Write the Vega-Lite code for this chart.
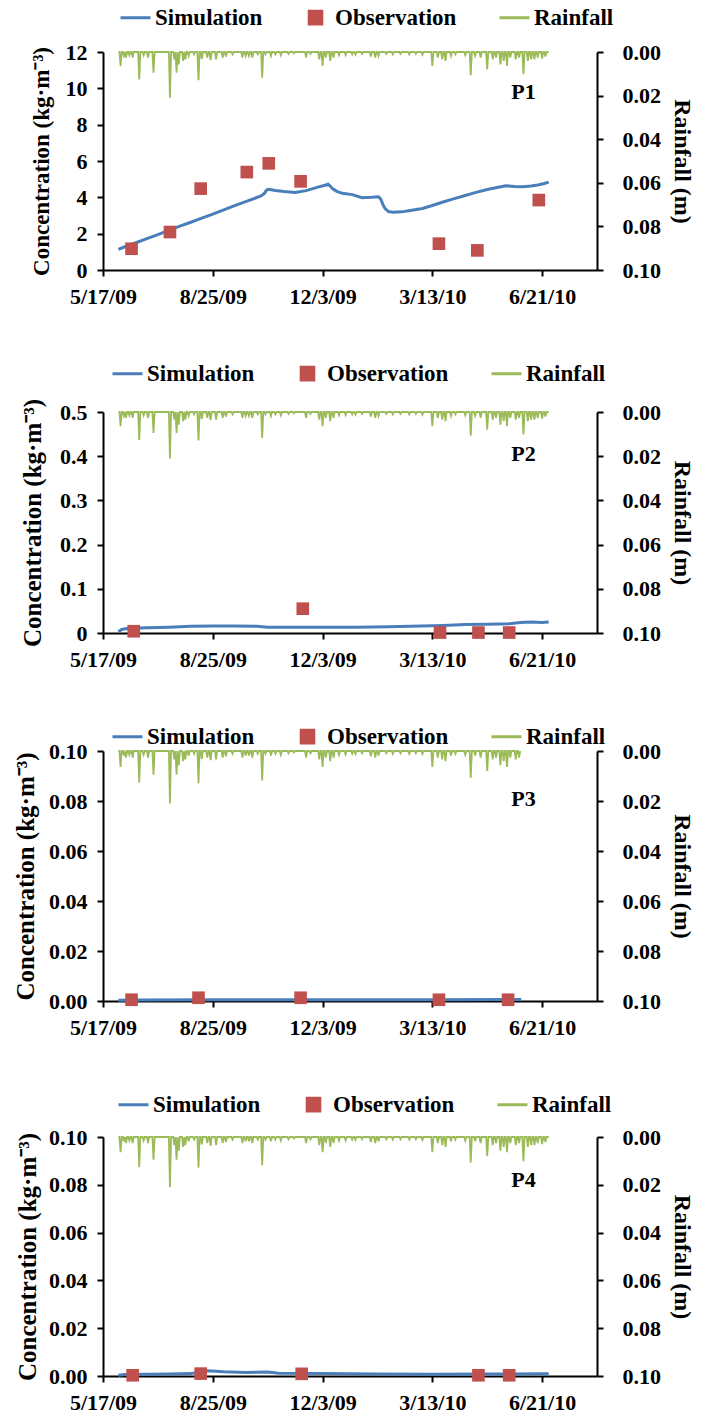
{
"$schema": "https://vega.github.io/schema/vega-lite/v6.json",
"padding": {"left": 13, "top": 1, "right": 5, "bottom": 5},
"config": {
  "font": "Liberation Serif",
  "view": {"stroke": null},
  "axis": {"domainColor": "#000", "domainWidth": 2, "tickColor": "#000", "tickWidth": 2, "tickSize": 6, "labelFont": "Liberation Serif", "labelFontSize": 22, "labelFontWeight": "bold", "labelColor": "#000", "titleFont": "Liberation Serif", "titleFontSize": 24, "titleFontWeight": "bold", "titleColor": "#000", "grid": false, "labelPadding": 10, "labelOverlap": false, "labelFlush": false},
  "legend": {"labelFont": "Liberation Serif", "labelFontSize": 23, "labelFontWeight": "bold", "labelColor": "#000", "symbolSize": 900, "symbolStrokeWidth": 3, "columnPadding": 36, "labelOffset": 3, "padding": 0}
},
"datasets": {
"rain": [
{"d":"2009-05-31","r":0},{"d":"2009-06-01","r":0},{"d":"2009-06-02","r":0.0064},{"d":"2009-06-03","r":0},{"d":"2009-06-04","r":0},{"d":"2009-06-05","r":0.0018},{"d":"2009-06-06","r":0},{"d":"2009-06-07","r":0.0026},{"d":"2009-06-08","r":0},{"d":"2009-06-09","r":0},{"d":"2009-06-10","r":0.0015},{"d":"2009-06-11","r":0},{"d":"2009-06-12","r":0},{"d":"2009-06-13","r":0.0026},{"d":"2009-06-14","r":0},{"d":"2009-06-18","r":0},{"d":"2009-06-19","r":0.0126},{"d":"2009-06-20","r":0},{"d":"2009-06-22","r":0},{"d":"2009-06-23","r":0.0015},{"d":"2009-06-24","r":0},{"d":"2009-06-26","r":0},{"d":"2009-06-27","r":0.0026},{"d":"2009-06-28","r":0},{"d":"2009-07-01","r":0},{"d":"2009-07-02","r":0.0095},{"d":"2009-07-03","r":0},{"d":"2009-07-16","r":0},{"d":"2009-07-17","r":0.021},{"d":"2009-07-18","r":0},{"d":"2009-07-20","r":0},{"d":"2009-07-21","r":0.0034},{"d":"2009-07-22","r":0},{"d":"2009-07-23","r":0.0095},{"d":"2009-07-24","r":0},{"d":"2009-07-25","r":0.0057},{"d":"2009-07-26","r":0},{"d":"2009-07-28","r":0},{"d":"2009-07-29","r":0.0041},{"d":"2009-07-30","r":0},{"d":"2009-07-31","r":0.0034},{"d":"2009-08-01","r":0},{"d":"2009-08-02","r":0},{"d":"2009-08-03","r":0.0018},{"d":"2009-08-04","r":0},{"d":"2009-08-07","r":0},{"d":"2009-08-08","r":0.0011},{"d":"2009-08-09","r":0},{"d":"2009-08-11","r":0},{"d":"2009-08-12","r":0.0129},{"d":"2009-08-13","r":0},{"d":"2009-08-14","r":0},{"d":"2009-08-15","r":0.0031},{"d":"2009-08-16","r":0},{"d":"2009-08-19","r":0},{"d":"2009-08-20","r":0.0026},{"d":"2009-08-21","r":0},{"d":"2009-08-22","r":0},{"d":"2009-08-23","r":0.0037},{"d":"2009-08-24","r":0},{"d":"2009-08-27","r":0},{"d":"2009-08-28","r":0.0034},{"d":"2009-08-29","r":0},{"d":"2009-09-02","r":0},{"d":"2009-09-03","r":0.0026},{"d":"2009-09-04","r":0},{"d":"2009-09-05","r":0},{"d":"2009-09-06","r":0.0021},{"d":"2009-09-07","r":0},{"d":"2009-09-11","r":0},{"d":"2009-09-12","r":0.0011},{"d":"2009-09-13","r":0},{"d":"2009-09-20","r":0},{"d":"2009-09-21","r":0.0026},{"d":"2009-09-22","r":0},{"d":"2009-09-23","r":0},{"d":"2009-09-24","r":0.0018},{"d":"2009-09-25","r":0},{"d":"2009-09-26","r":0},{"d":"2009-09-27","r":0.0018},{"d":"2009-09-28","r":0},{"d":"2009-09-29","r":0},{"d":"2009-09-30","r":0.0026},{"d":"2009-10-01","r":0},{"d":"2009-10-04","r":0},{"d":"2009-10-05","r":0.0011},{"d":"2009-10-06","r":0},{"d":"2009-10-08","r":0},{"d":"2009-10-09","r":0.0118},{"d":"2009-10-10","r":0},{"d":"2009-10-11","r":0},{"d":"2009-10-12","r":0.0011},{"d":"2009-10-13","r":0},{"d":"2009-10-16","r":0},{"d":"2009-10-17","r":0.0018},{"d":"2009-10-18","r":0},{"d":"2009-10-20","r":0},{"d":"2009-10-21","r":0.0011},{"d":"2009-10-22","r":0},{"d":"2009-10-25","r":0},{"d":"2009-10-26","r":0.0015},{"d":"2009-10-27","r":0},{"d":"2009-11-01","r":0},{"d":"2009-11-02","r":0.0009},{"d":"2009-11-03","r":0},{"d":"2009-11-06","r":0},{"d":"2009-11-07","r":0.0006},{"d":"2009-11-08","r":0},{"d":"2009-11-17","r":0},{"d":"2009-11-18","r":0.0026},{"d":"2009-11-19","r":0},{"d":"2009-11-21","r":0},{"d":"2009-11-22","r":0.0009},{"d":"2009-11-23","r":0},{"d":"2009-11-29","r":0},{"d":"2009-11-30","r":0.0034},{"d":"2009-12-01","r":0},{"d":"2009-12-02","r":0},{"d":"2009-12-03","r":0.0064},{"d":"2009-12-04","r":0},{"d":"2009-12-05","r":0},{"d":"2009-12-06","r":0.0026},{"d":"2009-12-07","r":0},{"d":"2009-12-09","r":0},{"d":"2009-12-10","r":0.0041},{"d":"2009-12-11","r":0},{"d":"2009-12-12","r":0},{"d":"2009-12-13","r":0.0026},{"d":"2009-12-14","r":0},{"d":"2009-12-17","r":0},{"d":"2009-12-18","r":0.0015},{"d":"2009-12-19","r":0},{"d":"2009-12-23","r":0},{"d":"2009-12-24","r":0.0014},{"d":"2009-12-25","r":0},{"d":"2009-12-29","r":0},{"d":"2009-12-30","r":0.0011},{"d":"2009-12-31","r":0},{"d":"2010-01-01","r":0},{"d":"2010-01-02","r":0.0012},{"d":"2010-01-03","r":0},{"d":"2010-01-07","r":0},{"d":"2010-01-08","r":0.0009},{"d":"2010-01-09","r":0},{"d":"2010-01-15","r":0},{"d":"2010-01-16","r":0.0021},{"d":"2010-01-17","r":0},{"d":"2010-01-19","r":0},{"d":"2010-01-20","r":0.0026},{"d":"2010-01-21","r":0},{"d":"2010-01-22","r":0},{"d":"2010-01-23","r":0.0018},{"d":"2010-01-24","r":0},{"d":"2010-01-29","r":0},{"d":"2010-01-30","r":0.0009},{"d":"2010-01-31","r":0},{"d":"2010-02-04","r":0},{"d":"2010-02-05","r":0.0011},{"d":"2010-02-06","r":0},{"d":"2010-02-11","r":0},{"d":"2010-02-12","r":0.0009},{"d":"2010-02-13","r":0},{"d":"2010-02-19","r":0},{"d":"2010-02-20","r":0.0011},{"d":"2010-02-21","r":0},{"d":"2010-02-25","r":0},{"d":"2010-02-26","r":0.0009},{"d":"2010-02-27","r":0},{"d":"2010-03-03","r":0},{"d":"2010-03-04","r":0.0012},{"d":"2010-03-05","r":0},{"d":"2010-03-12","r":0},{"d":"2010-03-13","r":0.0064},{"d":"2010-03-14","r":0},{"d":"2010-03-17","r":0},{"d":"2010-03-18","r":0.0026},{"d":"2010-03-19","r":0},{"d":"2010-03-21","r":0},{"d":"2010-03-22","r":0.0034},{"d":"2010-03-23","r":0},{"d":"2010-03-24","r":0},{"d":"2010-03-25","r":0.0041},{"d":"2010-03-26","r":0},{"d":"2010-03-29","r":0},{"d":"2010-03-30","r":0.0018},{"d":"2010-03-31","r":0},{"d":"2010-04-02","r":0},{"d":"2010-04-03","r":0.0011},{"d":"2010-04-04","r":0},{"d":"2010-04-11","r":0},{"d":"2010-04-12","r":0.0015},{"d":"2010-04-13","r":0},{"d":"2010-04-16","r":0},{"d":"2010-04-17","r":0.0107},{"d":"2010-04-18","r":0},{"d":"2010-04-20","r":0},{"d":"2010-04-21","r":0.0018},{"d":"2010-04-22","r":0},{"d":"2010-04-25","r":0},{"d":"2010-04-26","r":0.0026},{"d":"2010-04-27","r":0},{"d":"2010-05-01","r":0},{"d":"2010-05-02","r":0.008},{"d":"2010-05-03","r":0},{"d":"2010-05-06","r":0},{"d":"2010-05-07","r":0.0034},{"d":"2010-05-08","r":0},{"d":"2010-05-09","r":0},{"d":"2010-05-10","r":0.0026},{"d":"2010-05-11","r":0},{"d":"2010-05-13","r":0},{"d":"2010-05-14","r":0.0057},{"d":"2010-05-15","r":0},{"d":"2010-05-16","r":0},{"d":"2010-05-17","r":0.0041},{"d":"2010-05-18","r":0},{"d":"2010-05-19","r":0},{"d":"2010-05-20","r":0.0064},{"d":"2010-05-21","r":0},{"d":"2010-05-22","r":0},{"d":"2010-05-23","r":0.0026},{"d":"2010-05-24","r":0},{"d":"2010-05-27","r":0},{"d":"2010-05-28","r":0.0034},{"d":"2010-05-29","r":0},{"d":"2010-05-30","r":0},{"d":"2010-05-31","r":0.0026},{"d":"2010-06-01","r":0},{"d":"2010-06-03","r":0},{"d":"2010-06-04","r":0.0102},{"d":"2010-06-05","r":0},{"d":"2010-06-07","r":0},{"d":"2010-06-08","r":0.0041},{"d":"2010-06-09","r":0},{"d":"2010-06-10","r":0},{"d":"2010-06-11","r":0.0034},{"d":"2010-06-12","r":0},{"d":"2010-06-13","r":0},{"d":"2010-06-14","r":0.0034},{"d":"2010-06-15","r":0},{"d":"2010-06-16","r":0},{"d":"2010-06-17","r":0.0026},{"d":"2010-06-18","r":0},{"d":"2010-06-20","r":0},{"d":"2010-06-21","r":0.003},{"d":"2010-06-22","r":0},{"d":"2010-06-23","r":0},{"d":"2010-06-24","r":0.0021},{"d":"2010-06-25","r":0},{"d":"2010-06-27","r":0}
],
"sim": [
{"p":"P1","d":"2009-05-31","c":1.14},{"p":"P1","d":"2009-06-06","c":1.28},{"p":"P1","d":"2009-06-16","c":1.5},{"p":"P1","d":"2009-06-26","c":1.73},{"p":"P1","d":"2009-07-06","c":1.95},{"p":"P1","d":"2009-07-16","c":2.18},{"p":"P1","d":"2009-07-26","c":2.41},{"p":"P1","d":"2009-08-05","c":2.63},{"p":"P1","d":"2009-08-15","c":2.86},{"p":"P1","d":"2009-08-25","c":3.08},{"p":"P1","d":"2009-09-04","c":3.31},{"p":"P1","d":"2009-09-14","c":3.54},{"p":"P1","d":"2009-09-24","c":3.76},{"p":"P1","d":"2009-10-04","c":3.99},{"p":"P1","d":"2009-10-08","c":4.08},{"p":"P1","d":"2009-10-11","c":4.22},{"p":"P1","d":"2009-10-13","c":4.4},{"p":"P1","d":"2009-10-15","c":4.44},{"p":"P1","d":"2009-10-21","c":4.38},{"p":"P1","d":"2009-10-29","c":4.32},{"p":"P1","d":"2009-11-08","c":4.27},{"p":"P1","d":"2009-11-18","c":4.37},{"p":"P1","d":"2009-11-28","c":4.55},{"p":"P1","d":"2009-12-06","c":4.68},{"p":"P1","d":"2009-12-08","c":4.72},{"p":"P1","d":"2009-12-10","c":4.62},{"p":"P1","d":"2009-12-12","c":4.48},{"p":"P1","d":"2009-12-16","c":4.33},{"p":"P1","d":"2009-12-21","c":4.22},{"p":"P1","d":"2009-12-30","c":4.15},{"p":"P1","d":"2010-01-08","c":3.98},{"p":"P1","d":"2010-01-17","c":4.0},{"p":"P1","d":"2010-01-23","c":4.03},{"p":"P1","d":"2010-01-25","c":3.9},{"p":"P1","d":"2010-01-27","c":3.6},{"p":"P1","d":"2010-01-29","c":3.38},{"p":"P1","d":"2010-02-01","c":3.22},{"p":"P1","d":"2010-02-05","c":3.18},{"p":"P1","d":"2010-02-13","c":3.2},{"p":"P1","d":"2010-02-21","c":3.28},{"p":"P1","d":"2010-03-04","c":3.39},{"p":"P1","d":"2010-03-13","c":3.55},{"p":"P1","d":"2010-03-22","c":3.73},{"p":"P1","d":"2010-04-02","c":3.93},{"p":"P1","d":"2010-04-12","c":4.1},{"p":"P1","d":"2010-04-21","c":4.26},{"p":"P1","d":"2010-05-02","c":4.43},{"p":"P1","d":"2010-05-12","c":4.56},{"p":"P1","d":"2010-05-19","c":4.64},{"p":"P1","d":"2010-05-27","c":4.6},{"p":"P1","d":"2010-06-03","c":4.58},{"p":"P1","d":"2010-06-11","c":4.63},{"p":"P1","d":"2010-06-17","c":4.68},{"p":"P1","d":"2010-06-23","c":4.76},{"p":"P1","d":"2010-06-27","c":4.84},
{"p":"P2","d":"2009-05-31","c":0.003},{"p":"P2","d":"2009-06-03","c":0.008},{"p":"P2","d":"2009-06-08","c":0.01},{"p":"P2","d":"2009-06-26","c":0.012},{"p":"P2","d":"2009-07-16","c":0.013},{"p":"P2","d":"2009-08-05","c":0.015},{"p":"P2","d":"2009-08-25","c":0.016},{"p":"P2","d":"2009-09-14","c":0.016},{"p":"P2","d":"2009-10-04","c":0.015},{"p":"P2","d":"2009-10-14","c":0.013},{"p":"P2","d":"2009-11-03","c":0.013},{"p":"P2","d":"2009-12-03","c":0.013},{"p":"P2","d":"2010-01-02","c":0.013},{"p":"P2","d":"2010-02-01","c":0.014},{"p":"P2","d":"2010-03-03","c":0.016},{"p":"P2","d":"2010-03-23","c":0.017},{"p":"P2","d":"2010-04-12","c":0.019},{"p":"P2","d":"2010-05-02","c":0.02},{"p":"P2","d":"2010-05-22","c":0.021},{"p":"P2","d":"2010-06-01","c":0.024},{"p":"P2","d":"2010-06-11","c":0.025},{"p":"P2","d":"2010-06-21","c":0.024},{"p":"P2","d":"2010-06-27","c":0.025},
{"p":"P3","d":"2009-05-31","c":0.0003},{"p":"P3","d":"2009-06-16","c":0.0004},{"p":"P3","d":"2009-08-25","c":0.0005},{"p":"P3","d":"2009-12-03","c":0.0005},{"p":"P3","d":"2010-03-13","c":0.0005},{"p":"P3","d":"2010-06-02","c":0.0006},
{"p":"P4","d":"2009-05-31","c":0.0003},{"p":"P4","d":"2009-06-06","c":0.0006},{"p":"P4","d":"2009-07-16","c":0.0008},{"p":"P4","d":"2009-08-05","c":0.001},{"p":"P4","d":"2009-08-13","c":0.0017},{"p":"P4","d":"2009-08-20","c":0.0022},{"p":"P4","d":"2009-09-04","c":0.0018},{"p":"P4","d":"2009-09-24","c":0.0015},{"p":"P4","d":"2009-10-14","c":0.0017},{"p":"P4","d":"2009-10-24","c":0.0012},{"p":"P4","d":"2009-12-03","c":0.001},{"p":"P4","d":"2010-01-22","c":0.0008},{"p":"P4","d":"2010-03-13","c":0.0007},{"p":"P4","d":"2010-05-02","c":0.0008},{"p":"P4","d":"2010-06-21","c":0.0009},{"p":"P4","d":"2010-06-27","c":0.0009}
],
"obs": [
{"p":"P1","d":"2009-06-12","c":1.17},{"p":"P1","d":"2009-07-17","c":2.09},{"p":"P1","d":"2009-08-14","c":4.48},{"p":"P1","d":"2009-09-25","c":5.39},{"p":"P1","d":"2009-10-15","c":5.87},{"p":"P1","d":"2009-11-13","c":4.88},{"p":"P1","d":"2010-03-19","c":1.45},{"p":"P1","d":"2010-04-23","c":1.08},{"p":"P1","d":"2010-06-18","c":3.85},
{"p":"P2","d":"2009-06-14","c":0.004},{"p":"P2","d":"2009-11-15","c":0.055},{"p":"P2","d":"2010-03-20","c":0.001},{"p":"P2","d":"2010-04-24","c":0.001},{"p":"P2","d":"2010-05-22","c":0.001},
{"p":"P3","d":"2009-06-12","c":0.0005},{"p":"P3","d":"2009-08-12","c":0.0013},{"p":"P3","d":"2009-11-13","c":0.0013},{"p":"P3","d":"2010-03-19","c":0.0005},{"p":"P3","d":"2010-05-21","c":0.0005},
{"p":"P4","d":"2009-06-13","c":0.0003},{"p":"P4","d":"2009-08-14","c":0.001},{"p":"P4","d":"2009-11-14","c":0.0009},{"p":"P4","d":"2010-04-24","c":0.0003},{"p":"P4","d":"2010-05-22","c":0.0003}
]
},
"vconcat": [
{
 "width": 494, "height": 218,
 "layer": [
  {"data": {"name": "rain"},
   "mark": {"type": "line", "strokeWidth": 1.8},
   "encoding": {
    "x": {"field": "d", "type": "temporal", "scale": {"type": "utc", "nice": false, "domain": [{"year": 2009, "month": 5, "date": 17, "utc": true}, {"year": 2010, "month": 8, "date": 10, "utc": true}]}, "axis": {"title": null, "values": [{"year":2009,"month":5,"date":17,"utc":true},{"year":2009,"month":8,"date":25,"utc":true},{"year":2009,"month":12,"date":3,"utc":true},{"year":2010,"month":3,"date":13,"utc":true},{"year":2010,"month":6,"date":21,"utc":true}], "labelExpr": "utcFormat(datum.value, '%-m/%-d/%y')"}},
    "y": {"field": "r", "type": "quantitative", "scale": {"domain": [0, 0.1], "reverse": true, "nice": false}, "axis": {"orient": "right", "title": "Rainfall (m)", "values": [0, 0.02, 0.04, 0.06, 0.08, 0.1], "format": ".2f", "labelPadding": 19, "titlePadding": 9}},
    "color": {"datum": "Rainfall", "scale": {"domain": ["Simulation", "Observation", "Rainfall"], "range": ["#4a7ebb", "#c0504d", "#9bbb59"]}, "legend": {"title": null, "orient": "none", "legendX": 16, "legendY": -51, "direction": "horizontal", "encode": {"symbols": {"update": {"shape": {"signal": "datum.value === 'Observation' ? 'M-0.42,-0.42H0.42V0.42H-0.42Z' : 'stroke'"}, "fill": {"signal": "datum.value === 'Observation' ? '#c0504d' : 'transparent'"}, "stroke": {"signal": "datum.value === 'Simulation' ? '#4a7ebb' : datum.value === 'Rainfall' ? '#9bbb59' : 'transparent'"}, "strokeWidth": {"value": 3}, "opacity": {"value": 1}}}}}}
   }},
  {"layer": [
    {"data": {"name": "sim"}, "transform": [{"filter": "datum.p === 'P1'"}],
     "mark": {"type": "line", "strokeWidth": 3},
     "encoding": {
      "x": {"field": "d", "type": "temporal"},
      "y": {"field": "c", "type": "quantitative", "scale": {"domain": [0, 12], "nice": false}, "axis": {"orient": "left", "title": "Concentration (kg·m⁻³)", "values": [0, 2, 4, 6, 8, 10, 12], "tickCount": 7, "labelOverlap": false, "format": "d", "titlePadding": 12, "titleFontSize": 23}},
      "color": {"datum": "Simulation"}
     }},
    {"data": {"name": "obs"}, "transform": [{"filter": "datum.p === 'P1'"}],
     "mark": {"type": "point", "shape": "square", "filled": true, "size": 160, "opacity": 1},
     "encoding": {
      "x": {"field": "d", "type": "temporal"},
      "y": {"field": "c", "type": "quantitative"},
      "color": {"datum": "Observation"}
     }},
    {"data": {"values": [{"label": "P1"}]},
     "mark": {"type": "text", "fontSize": 22, "fontWeight": "bold", "font": "Liberation Serif", "color": "#000"},
     "encoding": {
      "x": {"datum": {"year": 2010, "month": 6, "date": 4, "utc": true}, "type": "temporal"},
      "y": {"datum": 9.8, "type": "quantitative"},
      "text": {"field": "label"}
     }}
  ]}
 ],
 "resolve": {"scale": {"y": "independent"}}
},
{
 "width": 494, "height": 221,
 "layer": [
  {"data": {"name": "rain"},
   "mark": {"type": "line", "strokeWidth": 1.8},
   "encoding": {
    "x": {"field": "d", "type": "temporal", "scale": {"type": "utc", "nice": false, "domain": [{"year": 2009, "month": 5, "date": 17, "utc": true}, {"year": 2010, "month": 8, "date": 10, "utc": true}]}, "axis": {"title": null, "values": [{"year":2009,"month":5,"date":17,"utc":true},{"year":2009,"month":8,"date":25,"utc":true},{"year":2009,"month":12,"date":3,"utc":true},{"year":2010,"month":3,"date":13,"utc":true},{"year":2010,"month":6,"date":21,"utc":true}], "labelExpr": "utcFormat(datum.value, '%-m/%-d/%y')"}},
    "y": {"field": "r", "type": "quantitative", "scale": {"domain": [0, 0.1], "reverse": true, "nice": false}, "axis": {"orient": "right", "title": "Rainfall (m)", "values": [0, 0.02, 0.04, 0.06, 0.08, 0.1], "format": ".2f", "labelPadding": 19, "titlePadding": 9}},
    "color": {"datum": "Rainfall", "scale": {"domain": ["Simulation", "Observation", "Rainfall"], "range": ["#4a7ebb", "#c0504d", "#9bbb59"]}, "legend": {"title": null, "orient": "none", "legendX": 8, "legendY": -55, "direction": "horizontal", "encode": {"symbols": {"update": {"shape": {"signal": "datum.value === 'Observation' ? 'M-0.42,-0.42H0.42V0.42H-0.42Z' : 'stroke'"}, "fill": {"signal": "datum.value === 'Observation' ? '#c0504d' : 'transparent'"}, "stroke": {"signal": "datum.value === 'Simulation' ? '#4a7ebb' : datum.value === 'Rainfall' ? '#9bbb59' : 'transparent'"}, "strokeWidth": {"value": 3}, "opacity": {"value": 1}}}}}}
   }},
  {"layer": [
    {"data": {"name": "sim"}, "transform": [{"filter": "datum.p === 'P2'"}],
     "mark": {"type": "line", "strokeWidth": 3},
     "encoding": {
      "x": {"field": "d", "type": "temporal"},
      "y": {"field": "c", "type": "quantitative", "scale": {"domain": [0, 0.5], "nice": false}, "axis": {"orient": "left", "title": "Concentration (kg·m⁻³)", "values": [0, 0.1, 0.2, 0.3, 0.4, 0.5], "labelOverlap": false, "format": ".1~f", "titlePadding": 14, "titleFontSize": 25}},
      "color": {"datum": "Simulation"}
     }},
    {"data": {"name": "obs"}, "transform": [{"filter": "datum.p === 'P2'"}],
     "mark": {"type": "point", "shape": "square", "filled": true, "size": 160, "opacity": 1},
     "encoding": {
      "x": {"field": "d", "type": "temporal"},
      "y": {"field": "c", "type": "quantitative"},
      "color": {"datum": "Observation"}
     }},
    {"data": {"values": [{"label": "P2"}]},
     "mark": {"type": "text", "fontSize": 22, "fontWeight": "bold", "font": "Liberation Serif", "color": "#000"},
     "encoding": {
      "x": {"datum": {"year": 2010, "month": 6, "date": 4, "utc": true}, "type": "temporal"},
      "y": {"datum": 0.405, "type": "quantitative"},
      "text": {"field": "label"}
     }}
  ]}
 ],
 "resolve": {"scale": {"y": "independent"}}
},
{
 "width": 494, "height": 250,
 "layer": [
  {"data": {"name": "rain"},
   "transform": [{"filter": "time(datum.d) <= utc(2010, 5, 2)"}],
   "mark": {"type": "line", "strokeWidth": 1.8},
   "encoding": {
    "x": {"field": "d", "type": "temporal", "scale": {"type": "utc", "nice": false, "domain": [{"year": 2009, "month": 5, "date": 17, "utc": true}, {"year": 2010, "month": 8, "date": 10, "utc": true}]}, "axis": {"title": null, "values": [{"year":2009,"month":5,"date":17,"utc":true},{"year":2009,"month":8,"date":25,"utc":true},{"year":2009,"month":12,"date":3,"utc":true},{"year":2010,"month":3,"date":13,"utc":true},{"year":2010,"month":6,"date":21,"utc":true}], "labelExpr": "utcFormat(datum.value, '%-m/%-d/%y')"}},
    "y": {"field": "r", "type": "quantitative", "scale": {"domain": [0, 0.1], "reverse": true, "nice": false}, "axis": {"orient": "right", "title": "Rainfall (m)", "values": [0, 0.02, 0.04, 0.06, 0.08, 0.1], "format": ".2f", "labelPadding": 19, "titlePadding": 9}},
    "color": {"datum": "Rainfall", "scale": {"domain": ["Simulation", "Observation", "Rainfall"], "range": ["#4a7ebb", "#c0504d", "#9bbb59"]}, "legend": {"title": null, "orient": "none", "legendX": 8, "legendY": -31, "direction": "horizontal", "encode": {"symbols": {"update": {"shape": {"signal": "datum.value === 'Observation' ? 'M-0.42,-0.42H0.42V0.42H-0.42Z' : 'stroke'"}, "fill": {"signal": "datum.value === 'Observation' ? '#c0504d' : 'transparent'"}, "stroke": {"signal": "datum.value === 'Simulation' ? '#4a7ebb' : datum.value === 'Rainfall' ? '#9bbb59' : 'transparent'"}, "strokeWidth": {"value": 3}, "opacity": {"value": 1}}}}}}
   }},
  {"layer": [
    {"data": {"name": "sim"}, "transform": [{"filter": "datum.p === 'P3'"}],
     "mark": {"type": "line", "strokeWidth": 3},
     "encoding": {
      "x": {"field": "d", "type": "temporal"},
      "y": {"field": "c", "type": "quantitative", "scale": {"domain": [0, 0.1], "nice": false}, "axis": {"orient": "left", "title": "Concentration (kg·m⁻³)", "values": [0, 0.02, 0.04, 0.06, 0.08, 0.1], "labelOverlap": false, "format": ".2f", "titlePadding": 10, "titleFontSize": 25}},
      "color": {"datum": "Simulation"}
     }},
    {"data": {"name": "obs"}, "transform": [{"filter": "datum.p === 'P3'"}],
     "mark": {"type": "point", "shape": "square", "filled": true, "size": 160, "opacity": 1},
     "encoding": {
      "x": {"field": "d", "type": "temporal"},
      "y": {"field": "c", "type": "quantitative"},
      "color": {"datum": "Observation"}
     }},
    {"data": {"values": [{"label": "P3"}]},
     "mark": {"type": "text", "fontSize": 22, "fontWeight": "bold", "font": "Liberation Serif", "color": "#000"},
     "encoding": {
      "x": {"datum": {"year": 2010, "month": 6, "date": 4, "utc": true}, "type": "temporal"},
      "y": {"datum": 0.081, "type": "quantitative"},
      "text": {"field": "label"}
     }}
  ]}
 ],
 "resolve": {"scale": {"y": "independent"}}
},
{
 "width": 494, "height": 239,
 "layer": [
  {"data": {"name": "rain"},
   "mark": {"type": "line", "strokeWidth": 1.8},
   "encoding": {
    "x": {"field": "d", "type": "temporal", "scale": {"type": "utc", "nice": false, "domain": [{"year": 2009, "month": 5, "date": 17, "utc": true}, {"year": 2010, "month": 8, "date": 10, "utc": true}]}, "axis": {"title": null, "values": [{"year":2009,"month":5,"date":17,"utc":true},{"year":2009,"month":8,"date":25,"utc":true},{"year":2009,"month":12,"date":3,"utc":true},{"year":2010,"month":3,"date":13,"utc":true},{"year":2010,"month":6,"date":21,"utc":true}], "labelExpr": "utcFormat(datum.value, '%-m/%-d/%y')"}},
    "y": {"field": "r", "type": "quantitative", "scale": {"domain": [0, 0.1], "reverse": true, "nice": false}, "axis": {"orient": "right", "title": "Rainfall (m)", "values": [0, 0.02, 0.04, 0.06, 0.08, 0.1], "format": ".2f", "labelPadding": 19, "titlePadding": 9}},
    "color": {"datum": "Rainfall", "scale": {"domain": ["Simulation", "Observation", "Rainfall"], "range": ["#4a7ebb", "#c0504d", "#9bbb59"]}, "legend": {"title": null, "orient": "none", "legendX": 14, "legendY": -49, "direction": "horizontal", "encode": {"symbols": {"update": {"shape": {"signal": "datum.value === 'Observation' ? 'M-0.42,-0.42H0.42V0.42H-0.42Z' : 'stroke'"}, "fill": {"signal": "datum.value === 'Observation' ? '#c0504d' : 'transparent'"}, "stroke": {"signal": "datum.value === 'Simulation' ? '#4a7ebb' : datum.value === 'Rainfall' ? '#9bbb59' : 'transparent'"}, "strokeWidth": {"value": 3}, "opacity": {"value": 1}}}}}}
   }},
  {"layer": [
    {"data": {"name": "sim"}, "transform": [{"filter": "datum.p === 'P4'"}],
     "mark": {"type": "line", "strokeWidth": 3},
     "encoding": {
      "x": {"field": "d", "type": "temporal"},
      "y": {"field": "c", "type": "quantitative", "scale": {"domain": [0, 0.1], "nice": false}, "axis": {"orient": "left", "title": "Concentration (kg·m⁻³)", "values": [0, 0.02, 0.04, 0.06, 0.08, 0.1], "labelOverlap": false, "format": ".2f", "titlePadding": 8, "titleFontSize": 25}},
      "color": {"datum": "Simulation"}
     }},
    {"data": {"name": "obs"}, "transform": [{"filter": "datum.p === 'P4'"}],
     "mark": {"type": "point", "shape": "square", "filled": true, "size": 160, "opacity": 1},
     "encoding": {
      "x": {"field": "d", "type": "temporal"},
      "y": {"field": "c", "type": "quantitative"},
      "color": {"datum": "Observation"}
     }},
    {"data": {"values": [{"label": "P4"}]},
     "mark": {"type": "text", "fontSize": 22, "fontWeight": "bold", "font": "Liberation Serif", "color": "#000"},
     "encoding": {
      "x": {"datum": {"year": 2010, "month": 6, "date": 4, "utc": true}, "type": "temporal"},
      "y": {"datum": 0.082, "type": "quantitative"},
      "text": {"field": "label"}
     }}
  ]}
 ],
 "resolve": {"scale": {"y": "independent"}}
}
],
"spacing": 50,
"resolve": {"scale": {"color": "independent"}, "legend": {"color": "independent"}}
}
